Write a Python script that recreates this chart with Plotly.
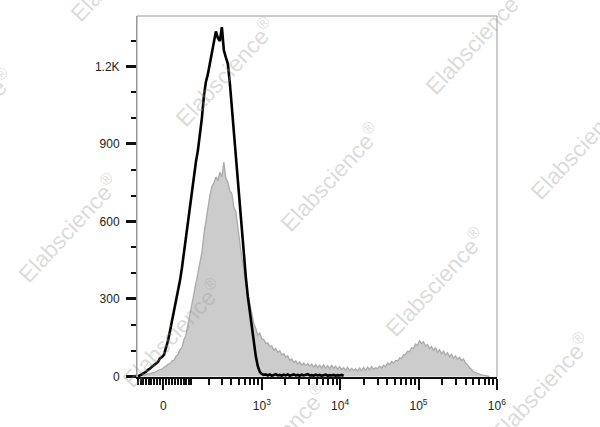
import numpy as np
import plotly.graph_objects as go

# Histogram counts per display channel (39.25 channels per decade; channel 62 = 10^3)
gray_counts = [
    0, 3, 5, 4, 8, 11, 10, 15, 14, 19, 21, 27, 28, 36, 39, 47, 50, 60, 63, 78,
    85, 104, 112, 142, 160, 200, 240, 285, 310, 365, 395, 445, 480, 550, 600, 665, 700, 735, 748, 772,
    758, 790, 772, 830, 768, 752, 718, 708, 655, 638, 572, 528, 458, 418, 355, 318, 272, 242, 204, 186,
    160, 168, 146, 142, 128, 130, 116, 118, 102, 108, 94, 100, 84, 88, 74, 80, 62, 68, 55, 60,
    48, 56, 44, 52, 42, 50, 40, 48, 36, 46, 34, 44, 33, 45, 32, 42, 30, 44, 31, 40,
    28, 38, 27, 34, 24, 36, 22, 32, 23, 30, 21, 33, 22, 35, 24, 36, 26, 38, 28, 34,
    30, 40, 33, 44, 38, 52, 46, 58, 52, 62, 60, 72, 70, 84, 86, 98, 96, 112, 108, 126,
    120, 138, 128, 134, 118, 124, 108, 116, 100, 112, 94, 104, 88, 98, 82, 92, 76, 86, 70, 80,
    66, 74, 62, 68, 52, 46, 34, 28, 18, 15, 10, 9, 6, 5, 3, 2, 0,
]

black_counts = [
    0, 4, 10, 14, 18, 26, 30, 38, 44, 50, 56, 70, 75, 84, 108, 138, 175, 212, 250, 285,
    325, 370, 420, 480, 540, 605, 668, 725, 780, 830, 875, 928, 1000, 1085, 1140, 1170, 1210, 1245, 1300, 1335,
    1310, 1298, 1352, 1262, 1235, 1210, 1135, 1040, 945, 845, 745, 650, 555, 470, 385, 310, 250, 195, 140, 78,
    40, 18, 10, 6, 8, 4, 8, 3, 6, 9, 4, 6, 3, 7, 4, 8, 3, 5, 8, 4,
    6, 3, 7, 4, 6, 9, 4, 5, 3, 7, 4, 6, 3, 5, 7, 3, 5, 4, 6, 3,
    5, 4, 6, 3,
]

gray_channels = list(range(len(gray_counts)))
black_channels = list(range(len(black_counts)))

# Axis tick values (fluorescence units) on a biexponential scale
major_vals = [0, 1e3, 1e4, 1e5, 1e6]
major_text = ["0", "10<sup>3</sup>", "10<sup>4</sup>", "10<sup>5</sup>", "10<sup>6</sup>"]
minor_vals = ([-v for v in range(10, 100, 10)] + list(range(10, 100, 10)) +
              list(range(100, 1000, 100)) + [m * 1e3 for m in range(2, 10)] +
              [m * 1e4 for m in range(2, 10)] + [m * 1e5 for m in range(2, 10)])
y_tickvals = [0, 300, 600, 900, 1200]
y_ticktext = ["0", "300", "600", "900", "1.2K"]

LN10 = np.log(10.0)


def to_channel(v):
    p = 1.744 + np.arcsinh(np.asarray(v, dtype=float) / 111.0) / LN10
    return (62 + (p - 3.0) * 39.25).tolist()


font = dict(family="Arial, Liberation Sans, sans-serif", size=12, color="#222")

fig = go.Figure()
fig.add_trace(go.Scatter(
    x=gray_channels, y=gray_counts, mode="lines", fill="tozeroy",
    fillcolor="rgb(204,204,204)", line=dict(color="rgb(170,170,170)", width=1.3),
    showlegend=False, hoverinfo="skip"))
fig.add_trace(go.Scatter(
    x=black_channels, y=black_counts, mode="lines",
    line=dict(color="black", width=2.6), showlegend=False, hoverinfo="skip"))

fig.update_xaxes(
    range=[-0.5, 179.8], tickmode="array", tickvals=to_channel(major_vals), ticktext=major_text,
    ticks="outside", ticklen=11, tickwidth=2, tickcolor="#111",
    minor=dict(tickmode="array", tickvals=to_channel(minor_vals), ticks="outside",
               ticklen=6, tickwidth=1.5, tickcolor="#111", showgrid=False),
    showline=True, linecolor="#111", linewidth=2, showgrid=False, zeroline=False,
    tickfont=font, ticklabelstandoff=6)
fig.update_yaxes(
    range=[-2, 1395], tickmode="array", tickvals=y_tickvals, ticktext=y_ticktext,
    ticks="outside", ticklen=10, tickwidth=2.5, tickcolor="#111",
    minor=dict(dtick=100, tick0=0, ticks="outside", ticklen=5, tickwidth=1.5,
               tickcolor="#111", showgrid=False),
    showline=True, linecolor="#999", linewidth=1, showgrid=False, zeroline=False,
    tickfont=font, ticklabelstandoff=4)

# thin grey frame on top and right
fig.add_shape(type="path", xref="paper", yref="paper", path="M0,0 L0,1 L1,1 L1,0",
              line=dict(color="#999", width=1), layer="above")

# watermarks
W, H, L, T, PW, PH = 600, 427, 137, 16, 360, 361
wm_centers = [(120, -33), (225, 72), (330, 177), (435, 282), (540, 387),
              (-37, 123), (68, 228), (172, 333), (277, 438),
              (475, 40), (580, 145)]
for cx, cy in wm_centers:
    fig.add_annotation(
        x=(cx - L) / PW, y=(T + PH - cy) / PH, xref="paper", yref="paper",
        text="Elabscience<sup>®</sup>", showarrow=False, textangle=-47,
        font=dict(family="Arial, Liberation Sans, sans-serif", size=23,
                  color="rgba(150,150,150,0.34)"),
        xanchor="center", yanchor="middle")

fig.update_layout(
    width=W, height=H, margin=dict(l=L, r=W - L - PW, t=T, b=H - T - PH),
    paper_bgcolor="white", plot_bgcolor="white", showlegend=False)

fig.write_html("out.html", config={"displayModeBar": False},
               post_script="document.body.style.margin='0';")
